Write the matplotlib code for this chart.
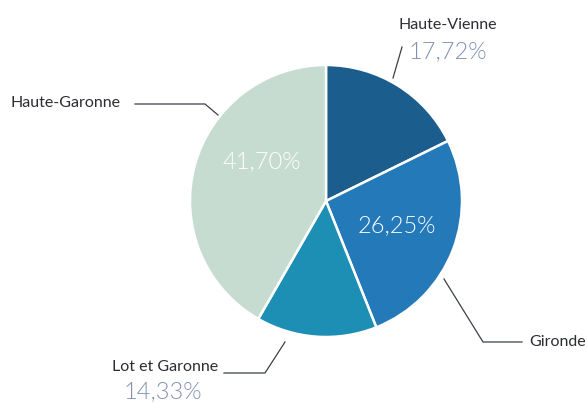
import matplotlib.pyplot as plt

# data
regions = ['Haute-Vienne', 'Gironde', 'Lot et Garonne', 'Haute-Garonne']
shares = [17.72, 26.25, 14.33, 41.70]
colors = ['#1b5d8c', '#2479b8', '#1d8fb4', '#c6dcd1']
labels = [f'{v:.2f}'.replace('.', ',') + '%' for v in shares]

W, H = 587, 403
fig = plt.figure(figsize=(W / 100, H / 100), dpi=100)
ax = fig.add_axes([0, 0, 1, 1])

ax.pie(shares, colors=colors, startangle=90, counterclock=False,
       center=(326, H - 201), radius=136,
       wedgeprops=dict(edgecolor='white', linewidth=1.8))

# pie() resets the limits, so set them afterwards
ax.set_xlim(0, W)
ax.set_ylim(0, H)
ax.set_aspect('equal')
ax.axis('off')

font = 'Lato'
dark = '#2b2d33'
pct_col = '#8091b6'
line_col = '#3a3f4a'

def y(v):
    return H - v

# leader lines
ax.plot([393, 402], [y(78), y(47)], color=line_col, lw=0.9)
ax.plot([135, 205, 218], [y(104), y(104), y(115)], color=line_col, lw=0.9)
ax.plot([224, 265, 285], [y(373), y(373), y(342)], color=line_col, lw=0.9)
ax.plot([444, 483, 522], [y(279), y(342), y(342)], color=line_col, lw=0.9)

# outside labels
ax.text(398, y(25), regions[0], family=font, fontsize=11.5, color=dark,
        ha='left', va='center')
ax.text(409, y(52), labels[0], family=font, fontsize=17, weight=300,
        color=pct_col, ha='left', va='center')
ax.text(529, y(342), regions[1], family=font, fontsize=11.5, color=dark,
        ha='left', va='center')
ax.text(112, y(367), regions[2], family=font, fontsize=11.5, color=dark,
        ha='left', va='center')
ax.text(124, y(392), labels[2], family=font, fontsize=17, weight=300,
        color=pct_col, ha='left', va='center')
ax.text(11, y(103), regions[3], family=font, fontsize=11.5, color=dark,
        ha='left', va='center')

# inside labels
ax.text(262, y(162), labels[3], family=font, fontsize=17, weight=300,
        color='white', ha='center', va='center')
ax.text(397, y(226), labels[1], family=font, fontsize=17, weight=300,
        color='white', ha='center', va='center')

fig.savefig('out.png', dpi=100)
